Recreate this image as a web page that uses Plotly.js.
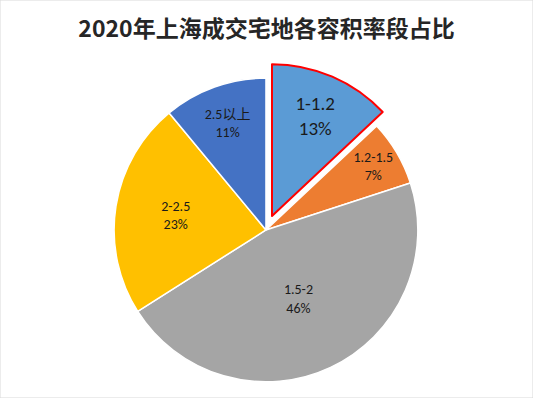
<!DOCTYPE html>
<html>
<head>
<meta charset="utf-8">
<script src="https://cdn.plot.ly/plotly-3.0.1.min.js"></script>
<style>html,body{margin:0;padding:0;background:#fff;}#chart{width:533px;height:398px;}</style>
</head>
<body>
<div id="chart"></div>
<script>
const categories = ['1-1.2', '1.2-1.5', '1.5-2', '2-2.5', '2.5以上'];
const shares = [13, 7, 46, 23, 11];
const sliceColors = ['#5B9BD5', '#ED7D31', '#A5A5A5', '#FFC000', '#4472C4'];
const pulls = [0.1, 0, 0, 0, 0];
const titleText = '2020年上海成交宅地各容积率段占比';

const trace = {
  type: 'pie',
  labels: categories,
  values: shares,
  sort: false,
  direction: 'clockwise',
  rotation: 0,
  pull: pulls,
  marker: {
    colors: sliceColors,
    line: { color: ['#FF0000', '#FFFFFF', '#FFFFFF', '#FFFFFF', '#FFFFFF'], width: [2, 1.5, 1.5, 1.5, 1.5] }
  },
  texttemplate: '%{label}<br>%{percent:.0%}',
  textposition: 'inside',
  insidetextorientation: 'horizontal',
  textfont: { family: 'Carlito, "Open Sans", "Noto Sans CJK SC", sans-serif', size: [19, 14, 14, 14, 14], color: '#1a1a1a' },
  hoverinfo: 'none',
  domain: { x: [0, 0.998], y: [0.0025, 0.842] },
  showlegend: false
};

const layout = {
  width: 533,
  height: 398,
  margin: { l: 0, r: 0, t: 0, b: 0 },
  paper_bgcolor: '#FFFFFF',
  title: {
    text: '<b>' + titleText + '</b>',
    font: { family: '"Noto Sans CJK SC", sans-serif', size: 23, color: '#262626' },
    x: 0.5, xanchor: 'center', y: 0.928, yanchor: 'middle'
  },
  shapes: [{
    type: 'rect', xref: 'paper', yref: 'paper', x0: 0, x1: 1, y0: 0, y1: 1,
    line: { color: '#D9D9D9', width: 1 }, fillcolor: 'rgba(0,0,0,0)'
  }],
  showlegend: false
};

Plotly.newPlot('chart', [trace], layout, { staticPlot: true });
</script>
</body>
</html>
